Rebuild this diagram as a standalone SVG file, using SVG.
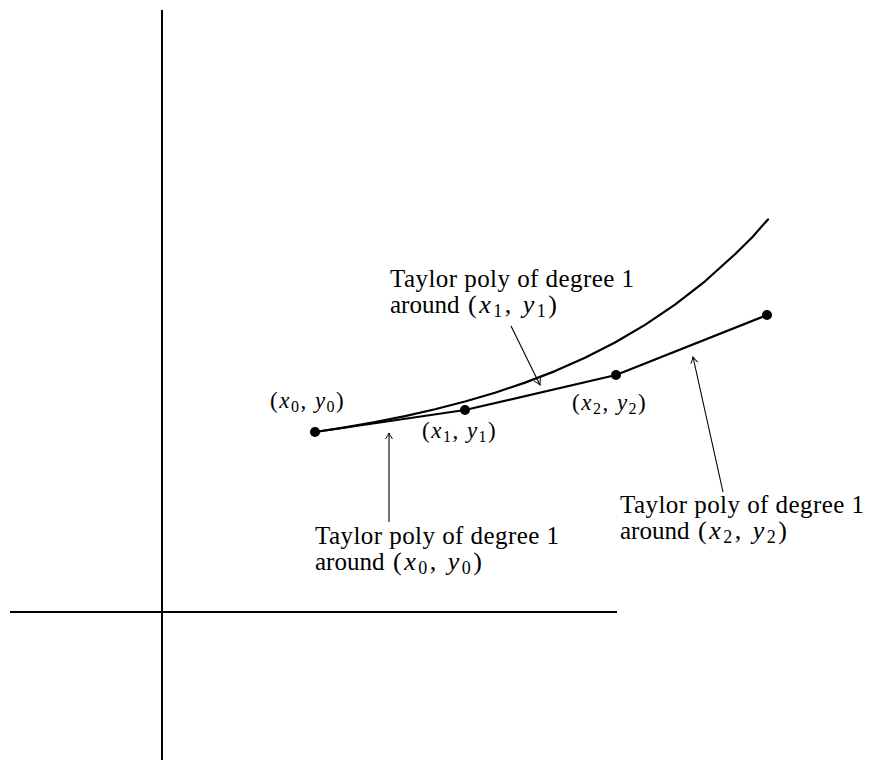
<svg xmlns="http://www.w3.org/2000/svg" width="869" height="760" viewBox="0 0 869 760">
<style>
.axis{stroke:#000;stroke-width:2;fill:none}
.curve{stroke:#000;stroke-width:2.2;fill:none;stroke-linejoin:round;stroke-linecap:round}
.arrow{stroke:#000;stroke-width:1.1;fill:none;marker-end:url(#head)}
.lbl{font-family:"Liberation Serif","DejaVu Serif",serif;font-size:25px;fill:#000}
.math{font-family:"Liberation Serif","DejaVu Serif",serif;font-size:26px;letter-spacing:2.5px;fill:#000}
.pt{font-family:"Liberation Serif","DejaVu Serif",serif;font-size:23px;letter-spacing:1.5px;fill:#000}
.it{font-style:italic}
.sub{font-size:16px}
.msub{font-size:18px}
.dot{fill:#000}
</style>
<defs>
<marker id="head" markerUnits="userSpaceOnUse" markerWidth="14" markerHeight="14" refX="0" refY="0" viewBox="-8 -7 10 14" orient="auto">
<path d="M -6 -3.5 Q -2 -0.8 0 0 Q -2 0.8 -6 3.5" stroke="#000" stroke-width="1" fill="none"/>
</marker>
</defs>
<g id="axes">
<line class="axis" x1="162" y1="10" x2="162" y2="760"/>
<line class="axis" x1="10" y1="612" x2="617" y2="612"/>
</g>
<g id="curve">
<polyline class="curve" points="315,432 345,427.3 375,422 405,416.1 435,409.3 465,401.5 495,392.7 525,382.6 555,371.1 585,357.8 615,342.5 645,324.9 675,304.7 705,281.3 735,254.3 752,237.5 768,219.4"/>
</g>
<g id="tangents">
<polyline class="curve" points="315,432 465,410 616,375 767,315"/>
</g>
<g id="p0"><circle class="dot" cx="315" cy="432" r="5"/>
<text class="pt" x="270" y="408">(<tspan class="it">x</tspan><tspan class="sub" dy="4">0</tspan><tspan dy="-4">, </tspan><tspan class="it">y</tspan><tspan class="sub" dy="4">0</tspan><tspan dy="-4">)</tspan></text></g>
<g id="p1"><circle class="dot" cx="465" cy="410" r="5"/>
<text class="pt" x="422" y="438">(<tspan class="it">x</tspan><tspan class="sub" dy="4">1</tspan><tspan dy="-4">, </tspan><tspan class="it">y</tspan><tspan class="sub" dy="4">1</tspan><tspan dy="-4">)</tspan></text></g>
<g id="p2"><circle class="dot" cx="616" cy="375" r="5"/>
<text class="pt" x="572" y="410">(<tspan class="it">x</tspan><tspan class="sub" dy="4">2</tspan><tspan dy="-4">, </tspan><tspan class="it">y</tspan><tspan class="sub" dy="4">2</tspan><tspan dy="-4">)</tspan></text></g>
<g id="p3"><circle class="dot" cx="767" cy="315" r="5"/></g>
<g id="connectors">
<line class="arrow" x1="511" y1="326" x2="540" y2="385"/>
<line class="arrow" x1="389" y1="522" x2="389" y2="433"/>
<line class="arrow" x1="723" y1="492" x2="693" y2="357"/>
</g>
<g id="label1">
<text class="lbl" x="390" y="287" textLength="244" lengthAdjust="spacing">Taylor poly of degree 1</text>
<text class="lbl" x="390" y="313">around</text>
<text class="math" x="468" y="313">(<tspan class="it">x</tspan><tspan class="msub" dy="4">1</tspan><tspan dy="-4">, </tspan><tspan class="it">y</tspan><tspan class="msub" dy="4">1</tspan><tspan dy="-4">)</tspan></text>
</g>
<g id="label0">
<text class="lbl" x="315" y="544" textLength="244" lengthAdjust="spacing">Taylor poly of degree 1</text>
<text class="lbl" x="315" y="570">around</text>
<text class="math" x="393" y="570">(<tspan class="it">x</tspan><tspan class="msub" dy="4">0</tspan><tspan dy="-4">, </tspan><tspan class="it">y</tspan><tspan class="msub" dy="4">0</tspan><tspan dy="-4">)</tspan></text>
</g>
<g id="label2">
<text class="lbl" x="620" y="513" textLength="244" lengthAdjust="spacing">Taylor poly of degree 1</text>
<text class="lbl" x="620" y="539">around</text>
<text class="math" x="698" y="539">(<tspan class="it">x</tspan><tspan class="msub" dy="4">2</tspan><tspan dy="-4">, </tspan><tspan class="it">y</tspan><tspan class="msub" dy="4">2</tspan><tspan dy="-4">)</tspan></text>
</g>
</svg>
